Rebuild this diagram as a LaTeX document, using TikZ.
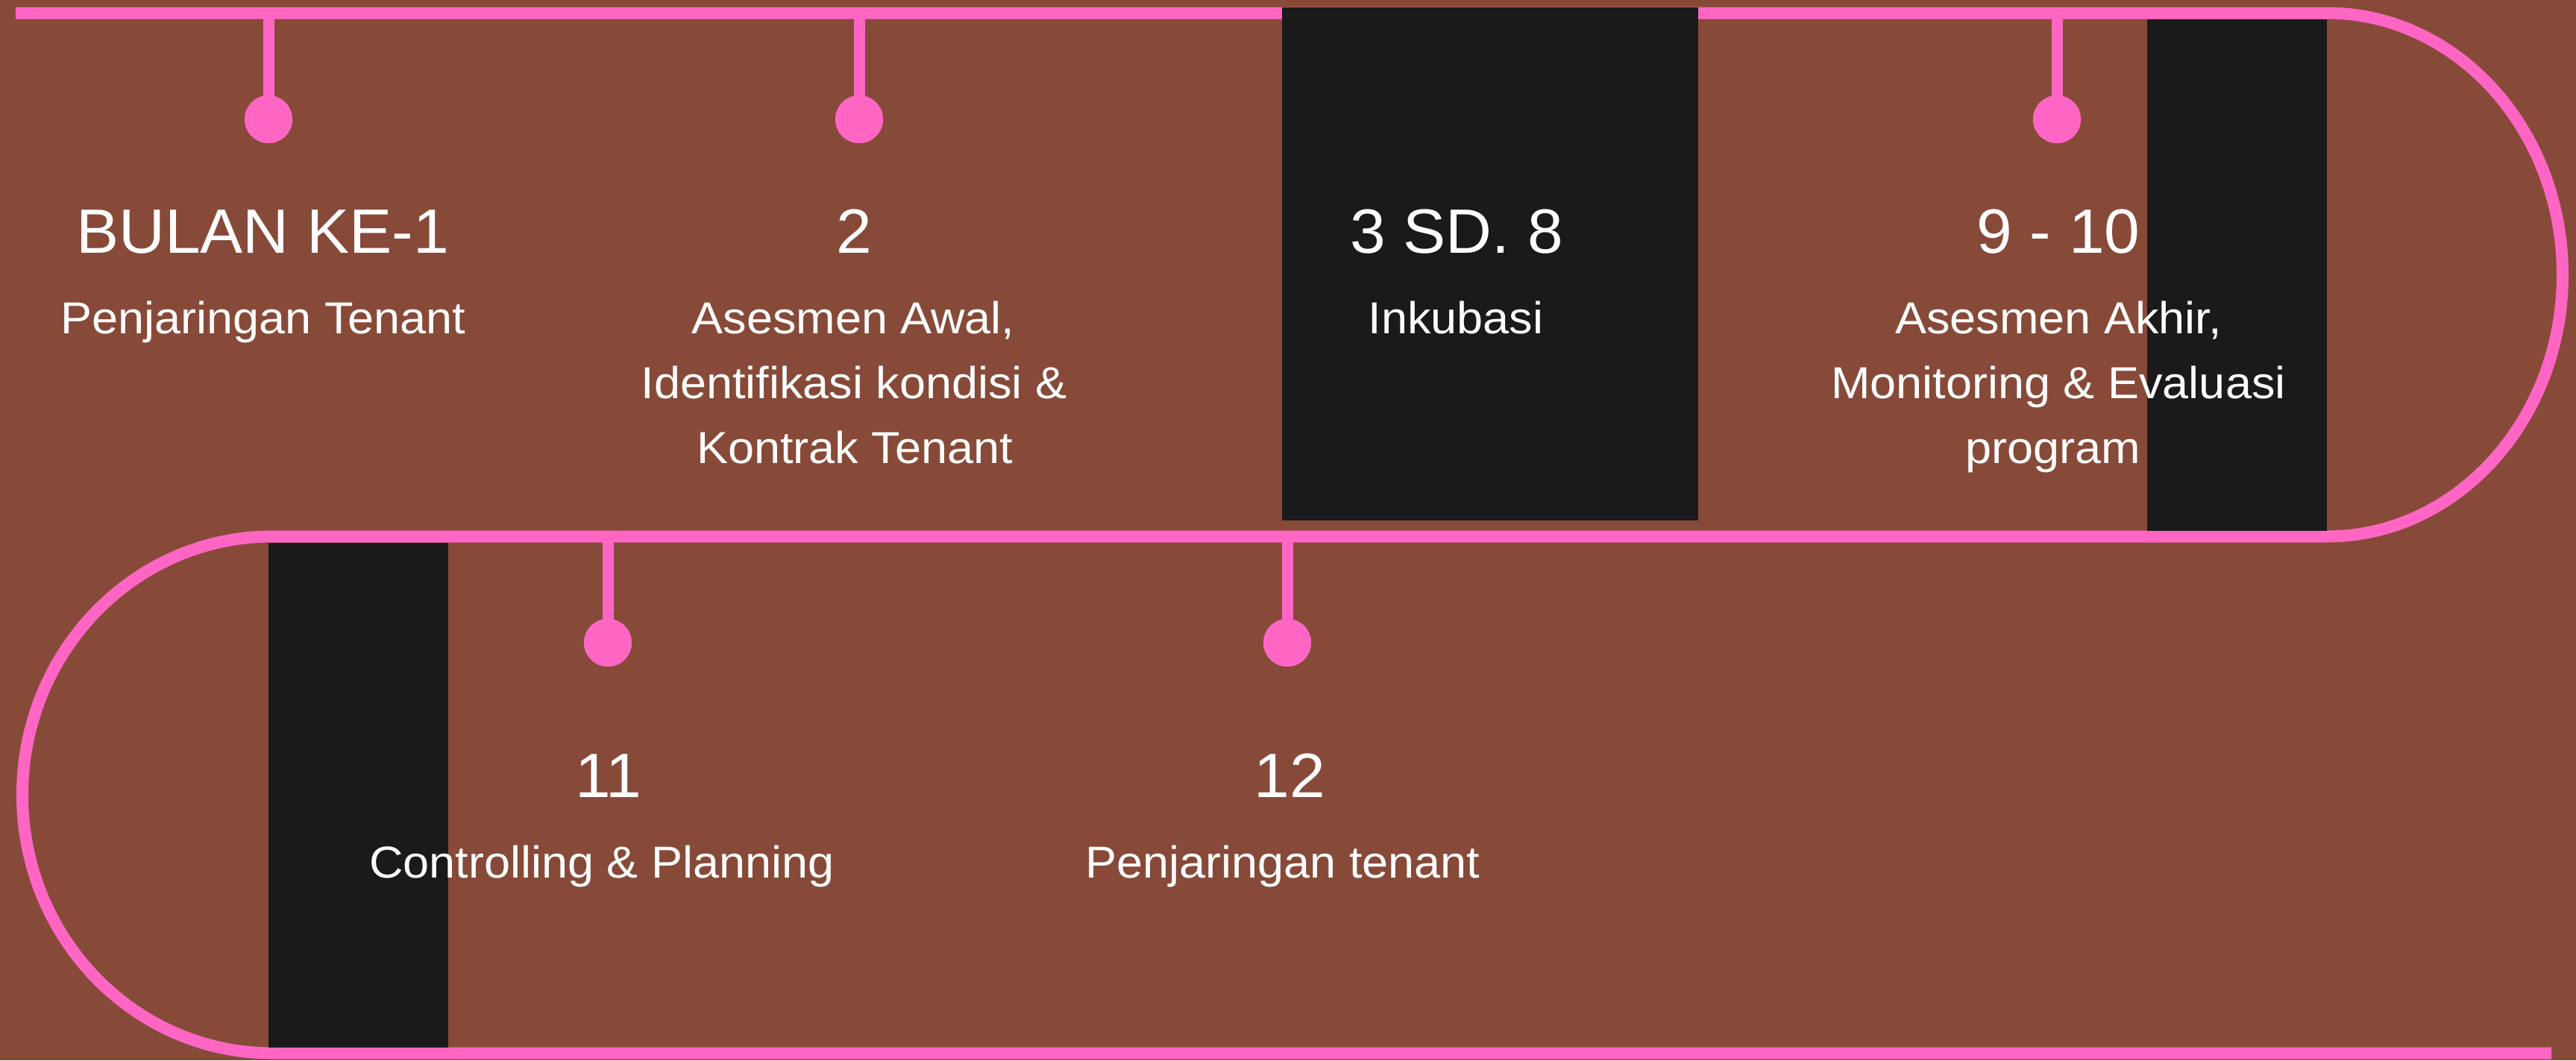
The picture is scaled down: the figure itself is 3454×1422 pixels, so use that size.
\documentclass[tikz,border=0pt]{standalone}
\usepackage{fontspec}
\setmainfont{Liberation Sans}
\newfontfamily\smallfam[FakeStretch=1.05]{Liberation Sans}
\newfontfamily\bigfam[FakeStretch=1.02]{Liberation Sans}
\definecolor{bgbrown}{HTML}{874A39}
\definecolor{trackpink}{HTML}{FF66C4}
\definecolor{panelblack}{HTML}{1A1A1A}
\tikzset{
  track/.style={draw=trackpink, line width=16pt},
  stemline/.style={draw=trackpink, line width=15pt},
  dotnode/.style={circle, fill=trackpink, minimum size=64pt, inner sep=0pt},
  panel/.style={fill=panelblack},
  bigtxt/.style={text=white, inner sep=0pt, anchor=base, font=\bigfam\fontsize{84}{100}\selectfont},
  smalltxt/.style={text=white, inner sep=0pt, anchor=base, font=\smallfam\fontsize{60}{87}\selectfont},
}
\begin{document}
\begin{tikzpicture}[x=1pt,y=-1pt]
\useasboundingbox (0,0) rectangle (3454,1422);
\fill[bgbrown] (0,0) rectangle (3454,1422);

% track
\draw[track] (21,17.5) -- (3120,17.5)
  arc[start angle=90, end angle=-90, x radius=316pt, y radius=351pt]
  -- (365,719.5)
  arc[start angle=90, end angle=270, x radius=335pt, y radius=346.5pt]
  -- (3421,1412.5);

% stem anchors on the track
\coordinate (t1) at (360,17.5);
\coordinate (t2) at (1152,17.5);
\coordinate (t4) at (2758,17.5);
\coordinate (t5) at (815,719.5);
\coordinate (t6) at (1726,719.5);

% dots
\node[dotnode] (dot1) at (360,160) {};
\node[dotnode] (dot2) at (1152,160) {};
\node[dotnode] (dot4) at (2758,160) {};
\node[dotnode] (dot5) at (815,862) {};
\node[dotnode] (dot6) at (1726,862) {};

\draw[stemline] (t1) -- (dot1.center);
\draw[stemline] (t2) -- (dot2.center);
\draw[stemline] (t4) -- (dot4.center);
\draw[stemline] (t5) -- (dot5.center);
\draw[stemline] (t6) -- (dot6.center);
\node[dotnode] at (dot1) {};
\node[dotnode] at (dot2) {};
\node[dotnode] at (dot4) {};
\node[dotnode] at (dot5) {};
\node[dotnode] at (dot6) {};

% black panels
\fill[panel] (1719,10) rectangle (2277,698);
\fill[panel] (2879,25.5) rectangle (3120,711.5);
\fill[panel] (360,727.5) rectangle (601,1405);

% texts, top row
\node[bigtxt] (n1) at (352,339) {BULAN KE-1};
\node[smalltxt] (d1a) at (353,447) {Penjaringan Tenant};

\node[bigtxt] (n2) at (1145,339) {2};
\node[smalltxt] (d2a) at (1144,447) {Asesmen Awal,};
\node[smalltxt] (d2b) at (1145,534) {Identifikasi kondisi \&};
\node[smalltxt] (d2c) at (1146,621) {Kontrak Tenant};

\node[bigtxt] (n3) at (1953,339) {3 SD. 8};
\node[smalltxt] (d3a) at (1952,447) {Inkubasi};

\node[bigtxt] (n4) at (2760,339) {9 - 10};
\node[smalltxt] (d4a) at (2760,447) {Asesmen Akhir,};
\node[smalltxt] (d4b) at (2760,534) {Monitoring \& Evaluasi};
\node[smalltxt] (d4c) at (2753,621) {program};

% texts, lower row
\node[bigtxt] (n5) at (816,1069) {11};
\node[smalltxt] (d5a) at (807,1177) {Controlling \& Planning};

\node[bigtxt] (n6) at (1729,1069) {12};
\node[smalltxt] (d6a) at (1720,1177) {Penjaringan tenant};
\end{tikzpicture}
\end{document}
